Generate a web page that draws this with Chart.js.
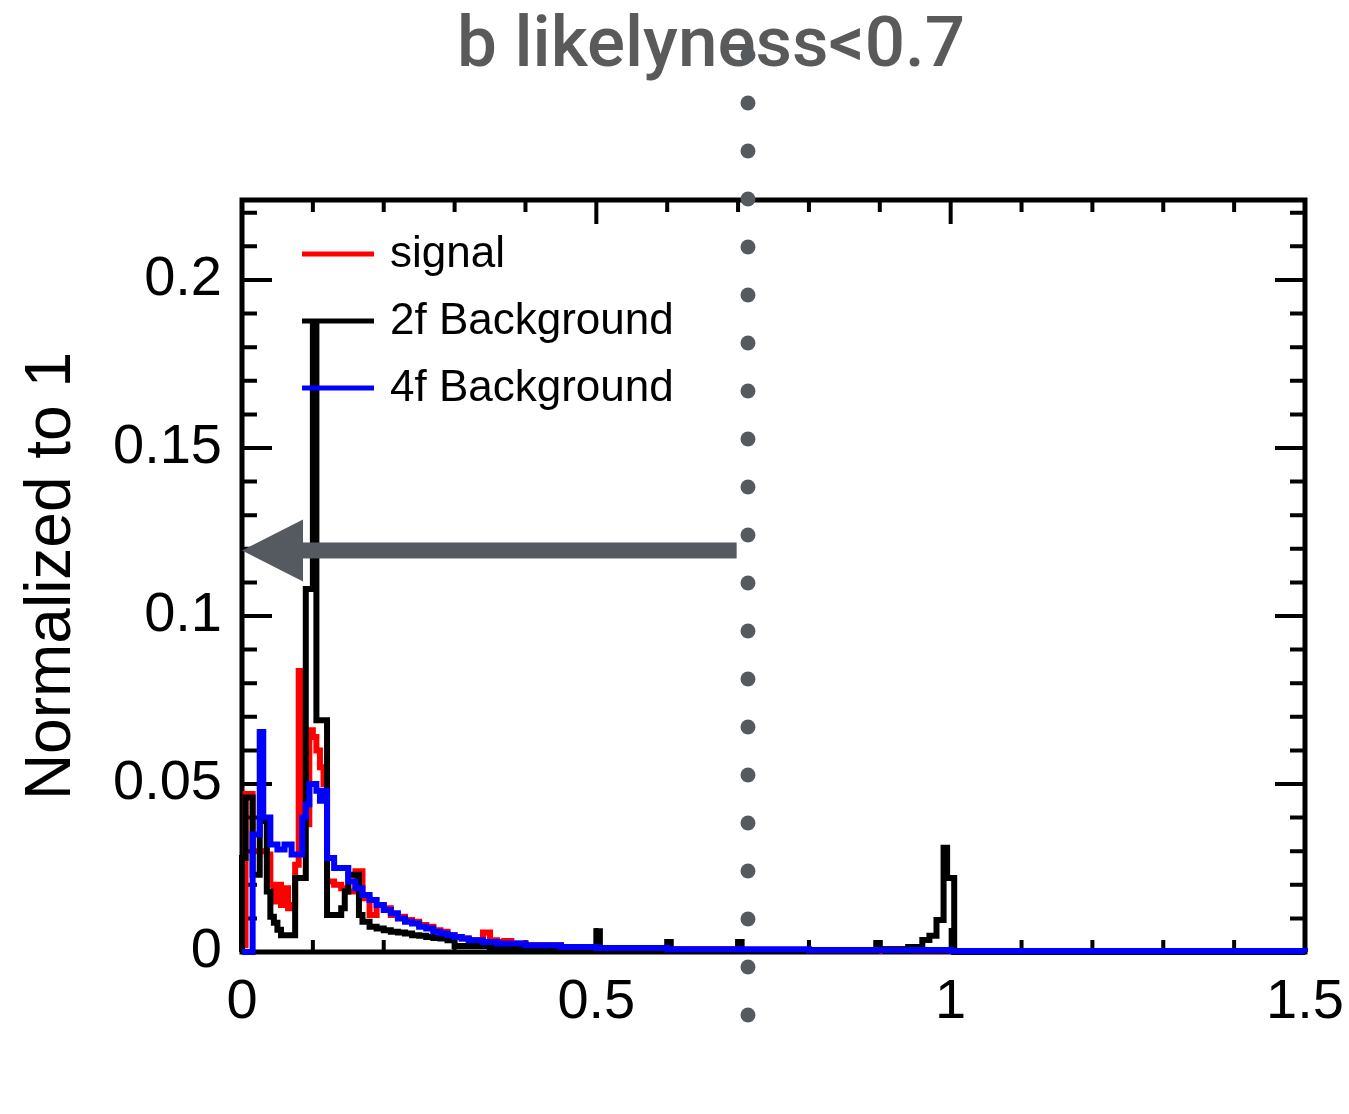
<!DOCTYPE html>
<html>
<head>
<meta charset="utf-8">
<script src="https://cdn.jsdelivr.net/npm/chart.js@4.4.0/dist/chart.umd.min.js"></script>
<style>
  html, body { margin: 0; padding: 0; background: #fff; }
  #c { display: block; }
</style>
</head>
<body>
<canvas id="c" width="1349" height="1114"></canvas>
<script>
// histogram bin edges and contents
const edgesSig = [0, 0.005, 0.015, 0.035, 0.04, 0.045, 0.05, 0.055, 0.06, 0.065, 0.07, 0.075, 0.08, 0.085, 0.095, 0.1, 0.105, 0.11, 0.115, 0.12, 0.13, 0.14, 0.15, 0.16, 0.17, 0.18, 0.19, 0.2, 0.21, 0.22, 0.23, 0.24, 0.25, 0.26, 0.27, 0.28, 0.29, 0.3, 0.31, 0.32, 0.34, 0.35, 0.36, 0.37, 0.38, 0.4, 0.45, 0.5, 0.6, 0.7, 0.8, 0.9, 0.95, 1.0];
const valsSig = [0.002, 0.047, 0.03, 0.029, 0.02, 0.015, 0.02, 0.014, 0.019, 0.013, 0.014, 0.026, 0.0836, 0.038, 0.066, 0.064, 0.06, 0.055, 0.05, 0.021, 0.02, 0.019, 0.018, 0.024, 0.016, 0.011, 0.014, 0.013, 0.011, 0.0105, 0.0095, 0.009, 0.008, 0.0075, 0.0065, 0.006, 0.005, 0.0045, 0.004, 0.0035, 0.0058, 0.0035, 0.003, 0.0033, 0.0025, 0.002, 0.0015, 0.001, 0.0008, 0.0006, 0.0004, 0.0008, 0.0005];

const edges2f = [0, 0.005, 0.015, 0.025, 0.035, 0.04, 0.045, 0.05, 0.055, 0.075, 0.09, 0.1, 0.105, 0.12, 0.14, 0.145, 0.15, 0.165, 0.17, 0.18, 0.19, 0.2, 0.21, 0.22, 0.23, 0.24, 0.25, 0.26, 0.27, 0.28, 0.29, 0.3, 0.35, 0.4, 0.5, 0.505, 0.6, 0.605, 0.7, 0.705, 0.895, 0.9, 0.94, 0.96, 0.97, 0.98, 0.99, 0.995, 1.005, 1.5];
const vals2f = [0.028, 0.046, 0.023, 0.039, 0.018, 0.0105, 0.0087, 0.0066, 0.005, 0.022, 0.108, 0.187, 0.069, 0.011, 0.013, 0.018, 0.023, 0.011, 0.009, 0.0075, 0.007, 0.0065, 0.006, 0.0058, 0.0055, 0.005, 0.0048, 0.0045, 0.0042, 0.004, 0.0035, 0.0018, 0.0014, 0.001, 0.0062, 0.0008, 0.003, 0.0006, 0.003, 0.0004, 0.0027, 0.0008, 0.0015, 0.0036, 0.0048, 0.0095, 0.031, 0.022, 0];

const edges4f = [0, 0.015, 0.025, 0.03, 0.04, 0.05, 0.06, 0.07, 0.085, 0.09, 0.095, 0.105, 0.11, 0.115, 0.12, 0.13, 0.15, 0.16, 0.17, 0.18, 0.19, 0.2, 0.21, 0.22, 0.23, 0.24, 0.25, 0.26, 0.27, 0.28, 0.29, 0.3, 0.31, 0.32, 0.34, 0.36, 0.4, 0.45, 0.5, 0.6, 0.8, 1.0, 1.5];
const vals4f = [0, 0.035, 0.0655, 0.04, 0.032, 0.0305, 0.032, 0.029, 0.04, 0.044, 0.05, 0.048, 0.045, 0.048, 0.028, 0.025, 0.021, 0.019, 0.017, 0.0155, 0.014, 0.0125, 0.0115, 0.01, 0.009, 0.0085, 0.0075, 0.007, 0.006, 0.0055, 0.005, 0.0045, 0.004, 0.0035, 0.003, 0.0025, 0.002, 0.0015, 0.0012, 0.0008, 0.0006, 0.0003];

const seriesNames = ['signal', '2f Background', '4f Background'];
const seriesColors = ['#ff0000', '#000000', '#0000ff'];

const xTickVals = [0, 0.5, 1, 1.5];
const xTickLabels = ['0', '0.5', '1', '1.5'];
const yTickVals = [0, 0.05, 0.1, 0.15, 0.2];
const yTickLabels = ['0', '0.05', '0.1', '0.15', '0.2'];

const titleText = 'b likelyness<0.7';
const cutValue = 0.714;   // dotted cut line
const arrowY = 0.1195;
const arrowFrom = 0.698;

// histogram -> step points
function toSteps(edges, vals) {
    const pts = [{ x: edges[0], y: 0 }];
    vals.forEach((v, i) => pts.push({ x: edges[i], y: v }));
    pts.push({ x: edges[edges.length - 1], y: 0 });
    return pts;
}

function histDataset(i, edges, vals, order) {
    return {
        label: seriesNames[i],
        data: toSteps(edges, vals),
        borderColor: seriesColors[i],
        backgroundColor: seriesColors[i],
        borderWidth: 6,
        stepped: true,
        pointRadius: 0,
        fill: false,
        tension: 0,
        borderJoinStyle: 'miter',
        borderCapStyle: 'butt',
        clip: 8,
        order: order
    };
}

// frame with inward ticks (ROOT style)
const framePlugin = {
    id: 'frame',
    beforeDatasetsDraw(chart) {
        const { ctx, chartArea: a, scales: { x, y } } = chart;
        ctx.save();
        ctx.strokeStyle = '#000';
        ctx.lineWidth = 4;
        ctx.beginPath();
        for (let i = 0; i <= 22; i++) {
            const p = y.getPixelForValue(i / 100);
            const len = i % 5 === 0 ? 30 : 15;
            ctx.moveTo(a.left, p); ctx.lineTo(a.left + len, p);
            ctx.moveTo(a.right, p); ctx.lineTo(a.right - len, p);
        }
        for (let i = 0; i <= 15; i++) {
            const p = x.getPixelForValue(i / 10);
            const len = i % 5 === 0 ? 24 : 12;
            ctx.moveTo(p, a.bottom); ctx.lineTo(p, a.bottom - len);
            ctx.moveTo(p, a.top); ctx.lineTo(p, a.top + len);
        }
        ctx.stroke();
        ctx.lineWidth = 5;
        ctx.strokeRect(a.left, a.top, a.right - a.left, a.bottom - a.top);
        ctx.restore();
    }
};

// legend, title, arrow and dotted cut line
const overlayPlugin = {
    id: 'overlay',
    afterDraw(chart) {
        const { ctx, chartArea: a, scales: { x, y } } = chart;
        ctx.save();

        // legend
        ctx.font = '44px "Liberation Sans", Arial, sans-serif';
        ctx.textBaseline = 'middle';
        ctx.textAlign = 'left';
        seriesNames.forEach((name, k) => {
            const ly = a.top + 54 + k * 67;
            ctx.strokeStyle = seriesColors[k];
            ctx.lineWidth = 5;
            ctx.beginPath();
            ctx.moveTo(a.left + 60, ly);
            ctx.lineTo(a.left + 132, ly);
            ctx.stroke();
            ctx.fillStyle = '#000';
            ctx.fillText(name, a.left + 148, ly + 1);
        });

        // title
        ctx.fillStyle = '#5a5a5a';
        ctx.font = '500 71px Roboto, "DejaVu Sans", sans-serif';
        ctx.textAlign = 'center';
        ctx.textBaseline = 'alphabetic';
        ctx.fillText(titleText, 711, 66);

        // arrow
        const gray = '#555a60';
        const ay = y.getPixelForValue(arrowY);
        const tip = x.getPixelForValue(0);
        const tail = x.getPixelForValue(arrowFrom);
        ctx.fillStyle = gray;
        ctx.fillRect(tip + 55, ay - 8, tail - tip - 55, 16);
        ctx.beginPath();
        ctx.moveTo(tip, ay);
        ctx.lineTo(tip + 61, ay - 31);
        ctx.lineTo(tip + 61, ay + 31);
        ctx.closePath();
        ctx.fill();

        // dotted cut line
        const cx = x.getPixelForValue(cutValue);
        for (let py = 55; py <= 1016; py += 48) {
            ctx.beginPath();
            ctx.arc(cx, py, 7.5, 0, Math.PI * 2);
            ctx.fill();
        }
        ctx.restore();
    }
};

Chart.defaults.font.family = '"Liberation Sans", Arial, sans-serif';
Chart.defaults.color = '#000';

new Chart(document.getElementById('c'), {
    type: 'line',
    data: {
        datasets: [
            histDataset(0, edgesSig, valsSig, 3),
            histDataset(1, edges2f, vals2f, 2),
            histDataset(2, edges4f, vals4f, 1)
        ]
    },
    options: {
        responsive: false,
        animation: false,
        devicePixelRatio: 1,
        layout: { padding: { top: 200, right: 44, left: 0, bottom: 0 } },
        plugins: { legend: { display: false }, tooltip: { enabled: false }, title: { display: false } },
        scales: {
            x: {
                type: 'linear', min: 0, max: 1.5,
                afterBuildTicks(s) { s.ticks = xTickVals.map(v => ({ value: v })); },
                afterFit(s) { s.height = 162; s.paddingLeft = 0; s.paddingRight = 0; },
                grid: { display: false, drawTicks: false },
                border: { display: false },
                ticks: { padding: 17, font: { size: 56 }, color: '#000', maxRotation: 0, autoSkip: false,
                         callback: (v, i) => xTickLabels[i] }
            },
            y: {
                type: 'linear', min: 0, max: 0.2238,
                afterBuildTicks(s) { s.ticks = yTickVals.map(v => ({ value: v })); },
                afterFit(s) { s.width = 242; s.paddingTop = 0; s.paddingBottom = 0; },
                grid: { display: false, drawTicks: false },
                border: { display: false },
                ticks: { padding: 20, font: { size: 56 }, color: '#000', autoSkip: false,
                         callback: (v, i) => yTickLabels[i] },
                title: { display: true, text: 'Normalized to 1', color: '#000',
                         font: { size: 64 }, padding: { top: 14, bottom: 0 } }
            }
        }
    },
    plugins: [framePlugin, overlayPlugin]
});
</script>
</body>
</html>
